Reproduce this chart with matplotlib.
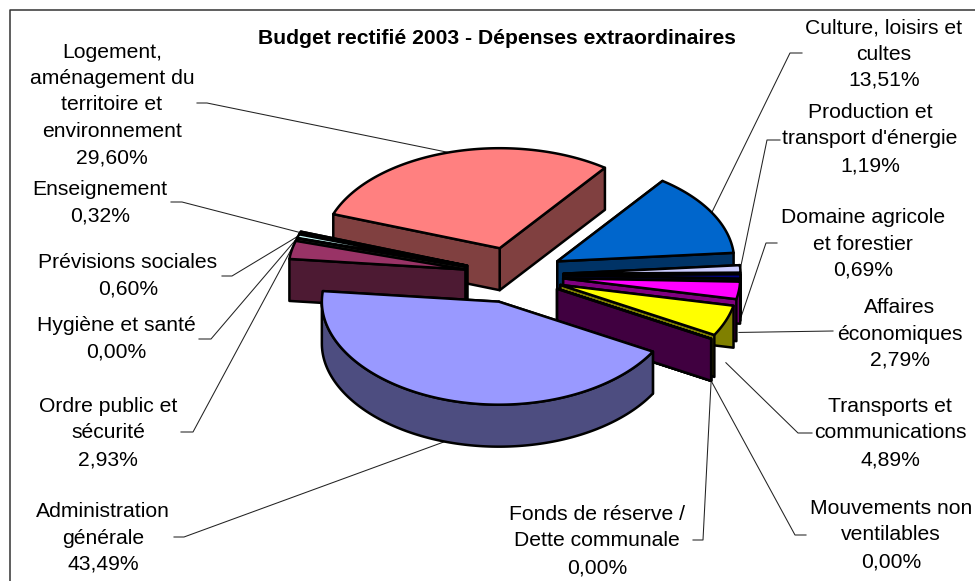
import numpy as np
import matplotlib
matplotlib.use("Agg")
import matplotlib.pyplot as plt
from matplotlib.patches import Polygon

plt.rcParams['font.family'] = ['Liberation Sans', 'DejaVu Sans']

# Data, in pie order (clockwise)
categories = ["Administration\ngénérale", "Ordre public et\nsécurité", "Hygiène et santé",
              "Prévisions sociales", "Enseignement",
              "Logement,\naménagement du\nterritoire et\nenvironnement", "Culture, loisirs et\ncultes",
              "Production et\ntransport d'énergie", "Domaine agricole\net forestier",
              "Affaires\néconomiques", "Transports et\ncommunications",
              "Mouvements non\nventilables", "Fonds de réserve /\nDette communale"]
values = [43.49, 2.93, 0.00, 0.60, 0.32, 29.60, 13.51, 1.19, 0.69, 2.79, 4.89, 0.00, 0.00]
colors = ["#9999FF", "#993366", "#FFFFCC", "#CCFFFF", "#660066", "#FF8080", "#0066CC",
          "#CCCCFF", "#000080", "#FF00FF", "#FFFF00", "#00FFFF", "#800080"]

# Label centres in pixels
label_x = [103, 108, 116, 128, 100, 112, 884, 870, 863, 900, 890, 891, 597]
label_y = [538, 433, 339, 276, 203, 105, 54, 139, 244, 334, 433, 535, 541]
# Leader line: stub next to the label, then elbow
leader_stub = [(174, 537), (181, 432), (199, 339), (222, 276), (171, 202), (197, 103), (802, 53),
               (780, 140), (777, 243), (833, 331), (812, 433), (806, 535), (693, 540)]
leader_elbow = [(184, 537), (193, 432), (211, 339), (232, 276), (182, 202), (207, 103), (790, 53),
                (767, 140), (766, 243), (833, 331), (798, 433), (795, 535), (703, 540)]

# Pie geometry in pixels
cx, cy = 514, 275
rx, ry = 177, 100
depth = 42
explode = 0.28
start_angle = 119.5


def rim(theta, apex):
    t = np.radians(theta)
    # front of the pie is a little bigger, as in a perspective view
    yr = ry * (1 + 0.03 * np.maximum(0, -np.cos(t)))
    return apex[0] + rx * np.sin(t), apex[1] - yr * np.cos(t)


def darker(c):
    return tuple(v / 2 for v in matplotlib.colors.to_rgb(c))


def arc_points(a0, a1, apex, drop=0):
    th = np.linspace(a0, a1, max(2, int(abs(a1 - a0)) + 2))
    x, y = rim(th, apex)
    return np.column_stack([x, y + drop])


fig = plt.figure(figsize=(9.75, 5.81), dpi=100)
ax = fig.add_axes([0, 0, 1, 1])
ax.set_xlim(0, 975)
ax.set_ylim(581, 0)
ax.axis('off')

# Chart frame (runs off the right and the bottom)
ax.plot([9.5, 9.5, 975], [581, 9.5, 9.5], color='#333333', lw=1.1)

ang = np.cumsum([0] + values[:-1]) * 3.6 + start_angle
spans = np.array(values) * 3.6
mids = ang + spans / 2
apexes = [(cx + explode * rx * np.sin(np.radians(m)), cy - explode * ry * np.cos(np.radians(m))) for m in mids]

# Leader lines go under the pie, to the wall bottom on the front half
for i in range(len(values)):
    a = mids[i]
    if i == 1:
        a = ang[i] + spans[i]  # Ordre public: upper corner of the slice
    end = rim(a, apexes[i])
    ey = end[1] + (depth if np.cos(np.radians(a)) < 0 else 0)
    ax.plot([leader_stub[i][0], leader_elbow[i][0], end[0]],
            [leader_stub[i][1], leader_elbow[i][1], ey],
            color='#222222', lw=0.75, zorder=1)

# Back to front
order = sorted(range(len(values)), key=lambda i: -np.cos(np.radians(mids[i])))
z = 2
edge = dict(edgecolor='black', lw=1.8, joinstyle='round')
for i in order:
    a0, a1 = ang[i], ang[i] + spans[i]
    apex = apexes[i]
    side = darker(colors[i])
    # radial walls, the one further back first
    for a in sorted([a0, a1], key=lambda a: -np.cos(np.radians(a))):
        px, py = rim(a, apex)
        ax.add_patch(Polygon([apex, (px, py), (px, py + depth), (apex[0], apex[1] + depth)],
                             facecolor=side, zorder=z, **edge))
        z += 1
    # outer wall, front facing part only
    f0, f1 = max(a0, 90), min(a1, 270)
    if f1 > f0:
        upper = arc_points(f0, f1, apex)
        lower = arc_points(f0, f1, apex, depth)[::-1]
        ax.add_patch(Polygon(np.vstack([upper, lower]), facecolor=side, zorder=z, **edge))
        z += 1
    # top
    ax.add_patch(Polygon(np.vstack([[apex], arc_points(a0, a1, apex)]), facecolor=colors[i], zorder=z, **edge))
    z += 1

for i in range(len(values)):
    pct = f"{values[i]:.2f}".replace('.', ',') + "%"
    ax.text(label_x[i], label_y[i], categories[i] + "\n" + pct, ha='center', va='center',
            fontsize=15.2, linespacing=1.5, color='black', zorder=z + 1)

ax.text(497, 38, "Budget rectifié 2003 - Dépenses extraordinaires", ha='center', va='center',
        fontsize=15.2, fontweight='bold', color='black', zorder=z + 1)

fig.savefig("out.png", dpi=100)
